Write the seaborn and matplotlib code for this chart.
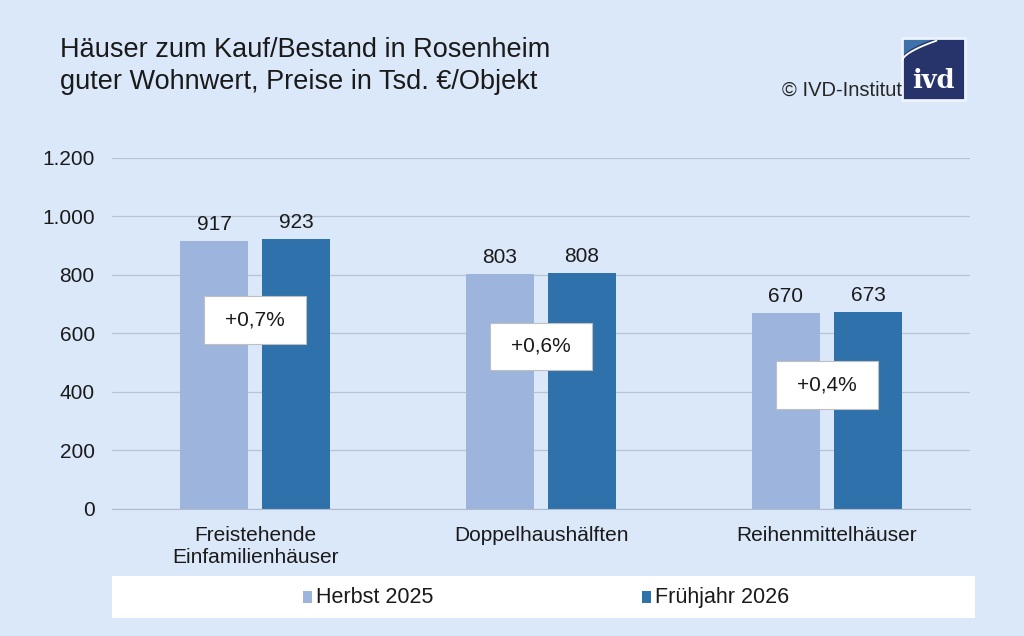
import numpy as np
import pandas as pd
import seaborn as sns
from matplotlib import pyplot as plt
from matplotlib.patches import Rectangle, Polygon

# data
categories = ['Freistehende\nEinfamilienhäuser', 'Doppelhaushälften', 'Reihenmittelhäuser']
series_names = ['Herbst 2025', 'Frühjahr 2026']
herbst_2025 = [917, 803, 670]
fruehjahr_2026 = [923, 808, 673]
changes = ['+0,7%', '+0,6%', '+0,4%']
change_pos = [646, 557, 424]
y_ticks = [0, 200, 400, 600, 800, 1000, 1200]
y_ticklabels = ['0', '200', '400', '600', '800', '1.000', '1.200']

df = pd.DataFrame({
    'Kategorie': categories * 2,
    'Zeitraum': [series_names[0]] * 3 + [series_names[1]] * 3,
    'Preis': herbst_2025 + fruehjahr_2026,
})

bg = '#dbe8fa'
light = '#9db5dc'
dark = '#2e71ab'
txt_col = '#1a1a1a'

sns.set_style('white')
plt.rcParams['font.family'] = ['Liberation Sans', 'DejaVu Sans']

fig = plt.figure(figsize=(10.24, 6.36), dpi=100)
fig.patch.set_facecolor(bg)
ax = fig.add_axes([0.1094, 0.1997, 0.8379, 0.5519])
ax.set_facecolor(bg)

sns.barplot(data=df, x='Kategorie', y='Preis', hue='Zeitraum',
            palette=[light, dark], width=0.574, gap=0.17, linewidth=0,
            legend=False, ax=ax, saturation=1)

for cont in ax.containers:
    ax.bar_label(cont, fmt='%d', padding=5, fontsize=15, color=txt_col)

# change boxes
box_w, box_h = 0.357, 161
for i, (txt, yv) in enumerate(zip(changes, change_pos)):
    ax.add_patch(Rectangle((i - box_w / 2, yv - box_h / 2), box_w, box_h,
                           fc='white', ec='#bfbfbf', lw=0.8, zorder=5))
    ax.text(i, yv, txt, ha='center', va='center', fontsize=15, color=txt_col,
            zorder=6)

ax.set_ylim(0, 1200)
ax.set_xlim(-0.5, 2.5)
ax.set_yticks(y_ticks)
ax.set_yticklabels(y_ticklabels, fontsize=15, color=txt_col)
ax.tick_params(axis='x', labelsize=15, colors=txt_col, length=0, pad=12)
ax.tick_params(axis='y', length=0, pad=12.5)
ax.set_xlabel('')
ax.set_ylabel('')
ax.yaxis.grid(True, color='#b8c4d4', lw=0.9)
ax.set_axisbelow(True)
for s in ['top', 'right', 'left']:
    ax.spines[s].set_visible(False)
ax.spines['bottom'].set_color('#b0bccd')

# title
fig.text(0.0586, 0.921, 'Häuser zum Kauf/Bestand in Rosenheim', fontsize=19.5,
         color=txt_col, va='center')
fig.text(0.0586, 0.871, 'guter Wohnwert, Preise in Tsd. €/Objekt', fontsize=19.5,
         color=txt_col, va='center')
fig.text(0.881, 0.858, '© IVD-Institut', fontsize=14.5, color='#262626',
         ha='right', va='center')

# logo
x0, y0, w, h = 0.881, 0.842, 0.061, 0.098
fig.patches.append(Rectangle((x0, y0), w, h, transform=fig.transFigure,
                             fc='#27346b', ec='none'))
t = np.linspace(0, 1, 30)
curve = np.column_stack([x0 + w * 0.55 * t, y0 + h * (0.68 + 0.32 * t ** 0.6)])
wedge = np.vstack([curve, [[x0, y0 + h]]])
fig.patches.append(Polygon(wedge, closed=True, transform=fig.transFigure,
                           fc='#3f72aa', ec='none'))
fig.lines.append(plt.Line2D(curve[:, 0], curve[:, 1] - 0.004, transform=fig.transFigure,
                            color='white', lw=1.3))
fig.patches.append(Rectangle((x0, y0), w, h, transform=fig.transFigure,
                             fc='none', ec='#eef3fb', lw=2))
fig.text(x0 + w / 2, 0.874, 'ivd', fontsize=18.5, fontweight='bold', color='white',
         ha='center', va='center', family='DejaVu Serif')

# legend box
fig.patches.append(Rectangle((0.109, 0.028), 0.843, 0.066, transform=fig.transFigure,
                             fc='white', ec='none'))
fig.patches.append(Rectangle((0.296, 0.052), 0.009, 0.018, transform=fig.transFigure,
                             fc=light, ec='none'))
fig.text(0.309, 0.061, series_names[0], fontsize=15.5, color=txt_col, va='center')
fig.patches.append(Rectangle((0.627, 0.052), 0.009, 0.018, transform=fig.transFigure,
                             fc=dark, ec='none'))
fig.text(0.640, 0.061, series_names[1], fontsize=15.5, color=txt_col, va='center')

fig.savefig('out.png', dpi=100, facecolor=bg)
